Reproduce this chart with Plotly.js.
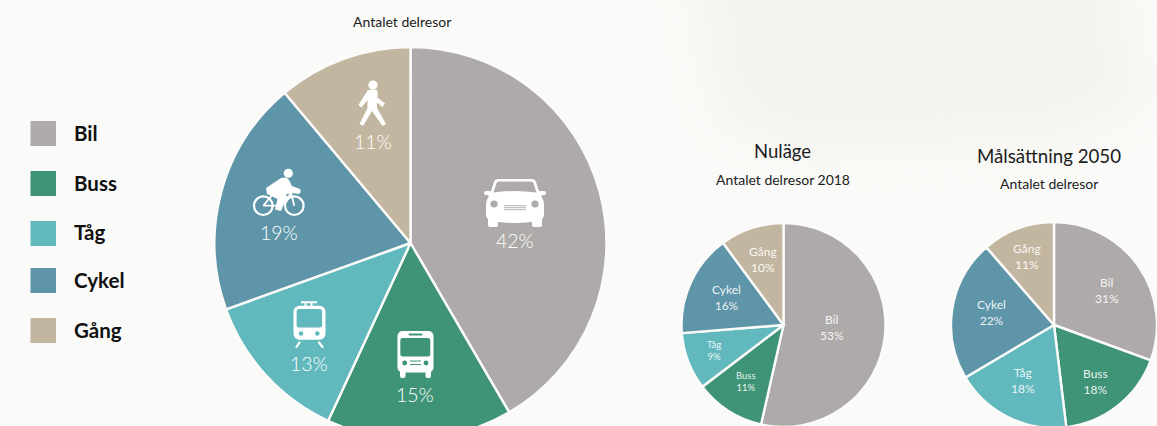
<!DOCTYPE html>
<html>
<head>
<meta charset="utf-8">
<script src="https://cdn.plot.ly/plotly-3.0.1.min.js"></script>
<style>
html,body{margin:0;padding:0;width:1157px;height:426px;overflow:hidden;background:#fafaf8}
#chart{width:1157px;height:600px}
</style>
</head>
<body>
<div id="chart"></div>
<script>
const categories = ["Bil", "Buss", "Tåg", "Cykel", "Gång"];
const colors = ["#aeaaa9", "#3f9478", "#61b8bd", "#5e95a8", "#c3b6a0"];
const mainValues = [41.6, 15.3, 12.6, 19.4, 11.1];
const currentValues = [53, 11, 9, 16, 10];
const goalValues = [30.6, 17.5, 18.4, 22.1, 11.4];

const W = 1157, H = 600;
const FONT = 'Lato,"Liberation Sans",Arial,sans-serif';
const px = x => x / W;
const py = y => 1 - y / H;

function pie(values, cx, cy, r) {
  return {
    type: "pie", labels: categories, values, sort: false, direction: "clockwise", rotation: 0,
    textinfo: "none", hoverinfo: "skip", showlegend: false,
    marker: {colors, line: {color: "#fbfbf9", width: 2.4}},
    domain: {x: [px(cx - r), px(cx + r)], y: [py(cy + r), py(cy - r)]}
  };
}

function text(t, x, y, size, color, extra, weight) {
  return Object.assign({
    text: t, x: px(x), y: py(y - 1), xref: "paper", yref: "paper", showarrow: false,
    xanchor: "center", yanchor: "middle", align: "center",
    font: {family: FONT, size, color, weight: weight || 400}
  }, extra || {});
}

const WHITE = "rgba(255,255,255,0.9)";
const BRIGHT = "#ffffff";
const INK = "#1c1c1c";

const mainLabelPos = [[514.5, 241.5], [415, 395], [309, 364], [278.5, 233], [372.5, 142]];
const currentLabelPos = [[831.5, 328], [746, 382], [713.5, 351], [726, 298], [763, 260]];
const currentLabelSize = [12, 9.5, 9.5, 12, 12];
const goalLabelPos = [[1107, 291], [1095, 382], [1023, 381], [991, 314], [1027, 257]];

const legendTop = [121, 171, 221, 268, 318];

const annotations = [
  text("Antalet delresor", 402, 22.5, 14, INK),
  text("Nuläge", 782.5, 152.5, 18.5, INK),
  text("Antalet delresor 2018", 782.5, 180.5, 14, INK),
  text("Målsättning 2050", 1049, 157.5, 18.7, INK),
  text("Antalet delresor", 1049, 184.5, 14, INK)
];
mainValues.forEach((v, i) => annotations.push(text(Math.round(v) + "%", mainLabelPos[i][0], mainLabelPos[i][1], 19.5, BRIGHT, null, 300)));
currentValues.forEach((v, i) => annotations.push(text(categories[i] + "<br>" + v + "%", currentLabelPos[i][0], currentLabelPos[i][1], currentLabelSize[i], WHITE)));
goalValues.forEach((v, i) => annotations.push(text(categories[i] + "<br>" + Math.round(v) + "%", goalLabelPos[i][0], goalLabelPos[i][1], 12, WHITE)));
categories.forEach((c, i) => annotations.push(text("<b>" + c + "</b>", 72, legendTop[i] + 12.5, 20.5, "#111", {xanchor: "left", align: "left"})));

const shapes = categories.map((c, i) => ({
  type: "rect", xref: "paper", yref: "paper", layer: "above",
  x0: px(30.5), x1: px(56), y0: py(legendTop[i] + 25), y1: py(legendTop[i]),
  fillcolor: colors[i], line: {width: 0}
}));

const svg = (w, h, body) => "data:image/svg+xml;utf8," + encodeURIComponent(
  `<svg xmlns="http://www.w3.org/2000/svg" width="${w}" height="${h}" viewBox="0 0 ${w} ${h}">${body}</svg>`);

const carIcon = c => svg(64, 50,
  `<path fill="#fff" d="M15 1Q12 1 11 4L8 13H3Q1 13 1 15Q1 17 4 17L6 18Q3 22 3 28V36Q3 40 5 41V47Q5 49 7 49H13Q15 49 15 47V44Q32 46 49 44V47Q49 49 51 49H57Q59 49 59 47V41Q61 40 61 36V28Q61 22 58 18L60 17Q63 17 63 15Q63 13 61 13H56L53 4Q52 1 49 1Z"/>
   <path fill="${c}" d="M16 3.5H48Q50 3.5 50.6 5.5L53.5 14.5Q32 11.5 10.5 14.5L13.4 5.5Q14 3.5 16 3.5Z"/>
   <circle cx="11" cy="26" r="3.6" fill="${c}"/><circle cx="52" cy="26" r="3.6" fill="${c}"/>
   <path stroke="${c}" stroke-width="0.9" d="M21 27.7H43M21 29.7H43M21 31.7H43"/>`);

const busIcon = c => svg(37, 47,
  `<rect x="0.5" y="0" width="36" height="41.5" rx="5" fill="#fff"/>
   <rect x="3" y="39" width="5.5" height="8" rx="2" fill="#fff"/><rect x="28.5" y="39" width="5.5" height="8" rx="2" fill="#fff"/>
   <rect x="3.3" y="7" width="30" height="18.5" rx="2.5" fill="${c}"/>
   <rect x="11.5" y="2.4" width="14" height="2.2" rx="1" fill="${c}"/>
   <circle cx="7.7" cy="32" r="2.4" fill="${c}"/><circle cx="29" cy="32" r="2.4" fill="${c}"/>
   <path stroke="${c}" stroke-width="1" d="M13 30H24M13 33.5H24"/>`);

const trainIcon = c => svg(33, 47,
  `<path stroke="#fff" stroke-width="2" d="M8 1.3H24M12.5 1.3V6M18.5 1.3V6"/>
   <rect x="0.5" y="4.7" width="32" height="34" rx="6" fill="#fff"/>
   <rect x="3.6" y="8" width="25.5" height="18.5" rx="2.5" fill="${c}"/>
   <circle cx="8" cy="32.5" r="2.3" fill="${c}"/><circle cx="24.3" cy="32.5" r="2.3" fill="${c}"/>
   <path stroke="#fff" stroke-width="2.2" stroke-linecap="round" d="M6.5 41.5L3.5 46M26 41.5L29.5 46"/>`);

const cycleIcon = c => svg(54, 50,
  `<circle cx="11.3" cy="37.7" r="9.3" fill="none" stroke="#fff" stroke-width="2.2"/>
   <circle cx="42.3" cy="37.7" r="9.3" fill="none" stroke="#fff" stroke-width="2.2"/>
   <circle cx="36.3" cy="5.3" r="4.6" fill="#fff"/>
   <path fill="none" stroke="#fff" stroke-width="1.8" d="M11.3 37.7L22 25H40M42.3 37.7L38 21M11.3 37.7H27L40 25"/>
   <path fill="#fff" d="M14 20L29 10Q35 8.5 37 12L40 18L48 21Q49.5 24 47 26L37 24.5L33 24.5L35 28L29 43L23 41.5L25.5 31L15 26Z"/>`);

const walkIcon = c => svg(29, 46,
  `<circle cx="15" cy="5" r="4.6" fill="#fff"/>
   <path fill="#fff" d="M9.5 10.5Q11 9.5 15 9.5Q19.5 9.5 19.5 11.5L19.5 17.5L27 23.5L24.5 27L19 22.5L19 28L28 44L24.5 46L14 31L5 46L1.5 44L9.5 28L9.5 20L3.5 27.5L0.5 25Z"/>`);

const icon = (source, x, y, w, h) => ({
  source, xref: "paper", yref: "paper", x: px(x), y: py(y),
  sizex: w / W, sizey: h / H, xanchor: "left", yanchor: "top", sizing: "stretch", layer: "above"
});

const haze = svg(1157, 426,
  `<defs><filter id="b" x="-20%" y="-50%" width="140%" height="200%"><feGaussianBlur stdDeviation="24"/></filter></defs>
   <g filter="url(#b)" fill="#f4f3ef">
   <path d="M690 -60H1120L1125 40L1150 100L1050 140L800 150L720 120Z"/></g>`);

const images = [
  {source: haze, xref: "paper", yref: "paper", x: 0, y: 1, sizex: 1, sizey: 426 / H, xanchor: "left", yanchor: "top", sizing: "stretch", layer: "below"},
  icon(carIcon(colors[0]), 483, 178, 64, 50),
  icon(busIcon(colors[1]), 397, 331, 37, 47),
  icon(trainIcon(colors[2]), 293, 301, 33, 47),
  icon(cycleIcon(colors[3]), 252, 168, 54, 50),
  icon(walkIcon(colors[4]), 358, 80, 29, 46)
];

Plotly.newPlot("chart", [
  pie(mainValues, 410.5, 243, 196),
  pie(currentValues, 783.5, 325, 102),
  pie(goalValues, 1054, 325, 103)
], {
  width: W, height: H, autosize: false,
  margin: {l: 0, r: 0, t: 0, b: 0},
  paper_bgcolor: "#fafaf8", plot_bgcolor: "#fafaf8",
  annotations, shapes, images
}, {displayModeBar: false, staticPlot: true});
</script>
</body>
</html>
